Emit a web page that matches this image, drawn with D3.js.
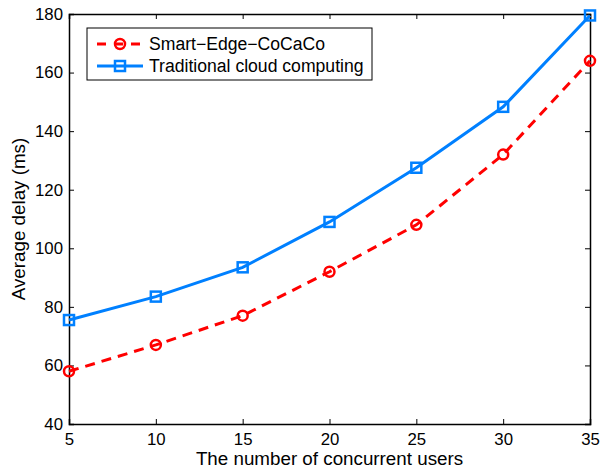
<!DOCTYPE html>
<html>
<head>
<meta charset="utf-8">
<script src="https://cdn.jsdelivr.net/npm/d3@7"></script>
<style>
  body { margin: 0; background: #fff; }
  text { font-family: "Liberation Sans", Arial, sans-serif; }
</style>
</head>
<body>
<svg width="600" height="472"></svg>
<script>
// chart data
var users = [5, 10, 15, 20, 25, 30, 35];
var smartEdge = [58, 67, 77, 92, 108, 132, 164];
var cloud = [75.5, 83.5, 93.5, 109, 127.5, 148.3, 179.5];
var xTicks = [5, 10, 15, 20, 25, 30, 35];
var yTicks = [40, 60, 80, 100, 120, 140, 160, 180];
var seriesNames = ["Smart\u2212Edge\u2212CoCaCo", "Traditional cloud computing"];

var svg = d3.select("svg"),
    margin = {top: 14, right: 10, bottom: 48, left: 69},
    width = 600 - margin.left - margin.right,
    height = 472 - margin.top - margin.bottom;

var g = svg.append("g").attr("transform", "translate(" + margin.left + "," + margin.top + ")");

var x = d3.scaleLinear().domain([5, 35]).range([0, width]);
var y = d3.scaleLinear().domain([40, 180]).range([height, 0]);

// axes (ticks pointing inwards, mirrored on top/right)
g.append("g")
    .attr("transform", "translate(0," + height + ")")
    .call(d3.axisBottom(x).tickValues(xTicks).tickSize(-5).tickPadding(9));
g.append("g")
    .call(d3.axisLeft(y).tickValues(yTicks).tickSize(-5).tickPadding(6));
g.append("g")
    .call(d3.axisTop(x).tickValues(xTicks).tickSize(-5).tickFormat(""));
g.append("g")
    .attr("transform", "translate(" + width + ",0)")
    .call(d3.axisRight(y).tickValues(yTicks).tickSize(-5).tickFormat(""));

g.selectAll(".domain").attr("stroke", "#000").attr("stroke-width", 1.5);
g.selectAll(".tick line").attr("stroke", "#000");
g.selectAll(".tick text").attr("font-size", 16.8).attr("fill", "#000")
    .attr("font-family", "Liberation Sans, Arial, sans-serif");

// axis labels
svg.append("text")
    .attr("x", margin.left + width / 2)
    .attr("y", 465)
    .attr("text-anchor", "middle")
    .attr("font-size", 18.8)
    .text("The number of concurrent users");

svg.append("text")
    .attr("transform", "translate(25," + (margin.top + height / 2) + ") rotate(-90)")
    .attr("text-anchor", "middle")
    .attr("font-size", 18.8)
    .text("Average delay (ms)");

var line = d3.line()
    .x(function(d, i) { return x(users[i]); })
    .y(function(d) { return y(d); });

// Smart-Edge (red dashed, circles)
g.append("path")
    .datum(smartEdge)
    .attr("d", line)
    .attr("fill", "none")
    .attr("stroke", "#ff0000")
    .attr("stroke-width", 3)
    .attr("stroke-dasharray", "10,7");
g.selectAll(".circ")
    .data(smartEdge)
    .enter().append("circle")
    .attr("cx", function(d, i) { return x(users[i]); })
    .attr("cy", function(d) { return y(d); })
    .attr("r", 5)
    .attr("fill", "none")
    .attr("stroke", "#ff0000")
    .attr("stroke-width", 2.5);

// Traditional cloud (blue solid, squares)
g.append("path")
    .datum(cloud)
    .attr("d", line)
    .attr("fill", "none")
    .attr("stroke", "#0080ff")
    .attr("stroke-width", 3);
g.selectAll(".sq")
    .data(cloud)
    .enter().append("rect")
    .attr("x", function(d, i) { return x(users[i]) - 5; })
    .attr("y", function(d) { return y(d) - 5; })
    .attr("width", 10)
    .attr("height", 10)
    .attr("fill", "none")
    .attr("stroke", "#0080ff")
    .attr("stroke-width", 2.5);

// legend
var leg = svg.append("g").attr("transform", "translate(87,28)");
leg.append("rect")
    .attr("width", 285).attr("height", 52)
    .attr("fill", "#fff").attr("stroke", "#000").attr("stroke-width", 1);

leg.append("line").attr("x1", 10).attr("x2", 56).attr("y1", 16).attr("y2", 16)
    .attr("stroke", "#ff0000").attr("stroke-width", 3).attr("stroke-dasharray", "9,8");
leg.append("circle").attr("cx", 33).attr("cy", 16).attr("r", 5)
    .attr("fill", "none").attr("stroke", "#ff0000").attr("stroke-width", 2.5);
leg.append("line").attr("x1", 10).attr("x2", 56).attr("y1", 38).attr("y2", 38)
    .attr("stroke", "#0080ff").attr("stroke-width", 3);
leg.append("rect").attr("x", 28).attr("y", 33).attr("width", 10).attr("height", 10)
    .attr("fill", "none").attr("stroke", "#0080ff").attr("stroke-width", 2.5);

leg.selectAll(".lt")
    .data(seriesNames)
    .enter().append("text")
    .attr("x", 62)
    .attr("y", function(d, i) { return 16 + i * 22; })
    .attr("dy", "0.35em")
    .attr("font-size", 17.6)
    .text(function(d) { return d; });
</script>
</body>
</html>
